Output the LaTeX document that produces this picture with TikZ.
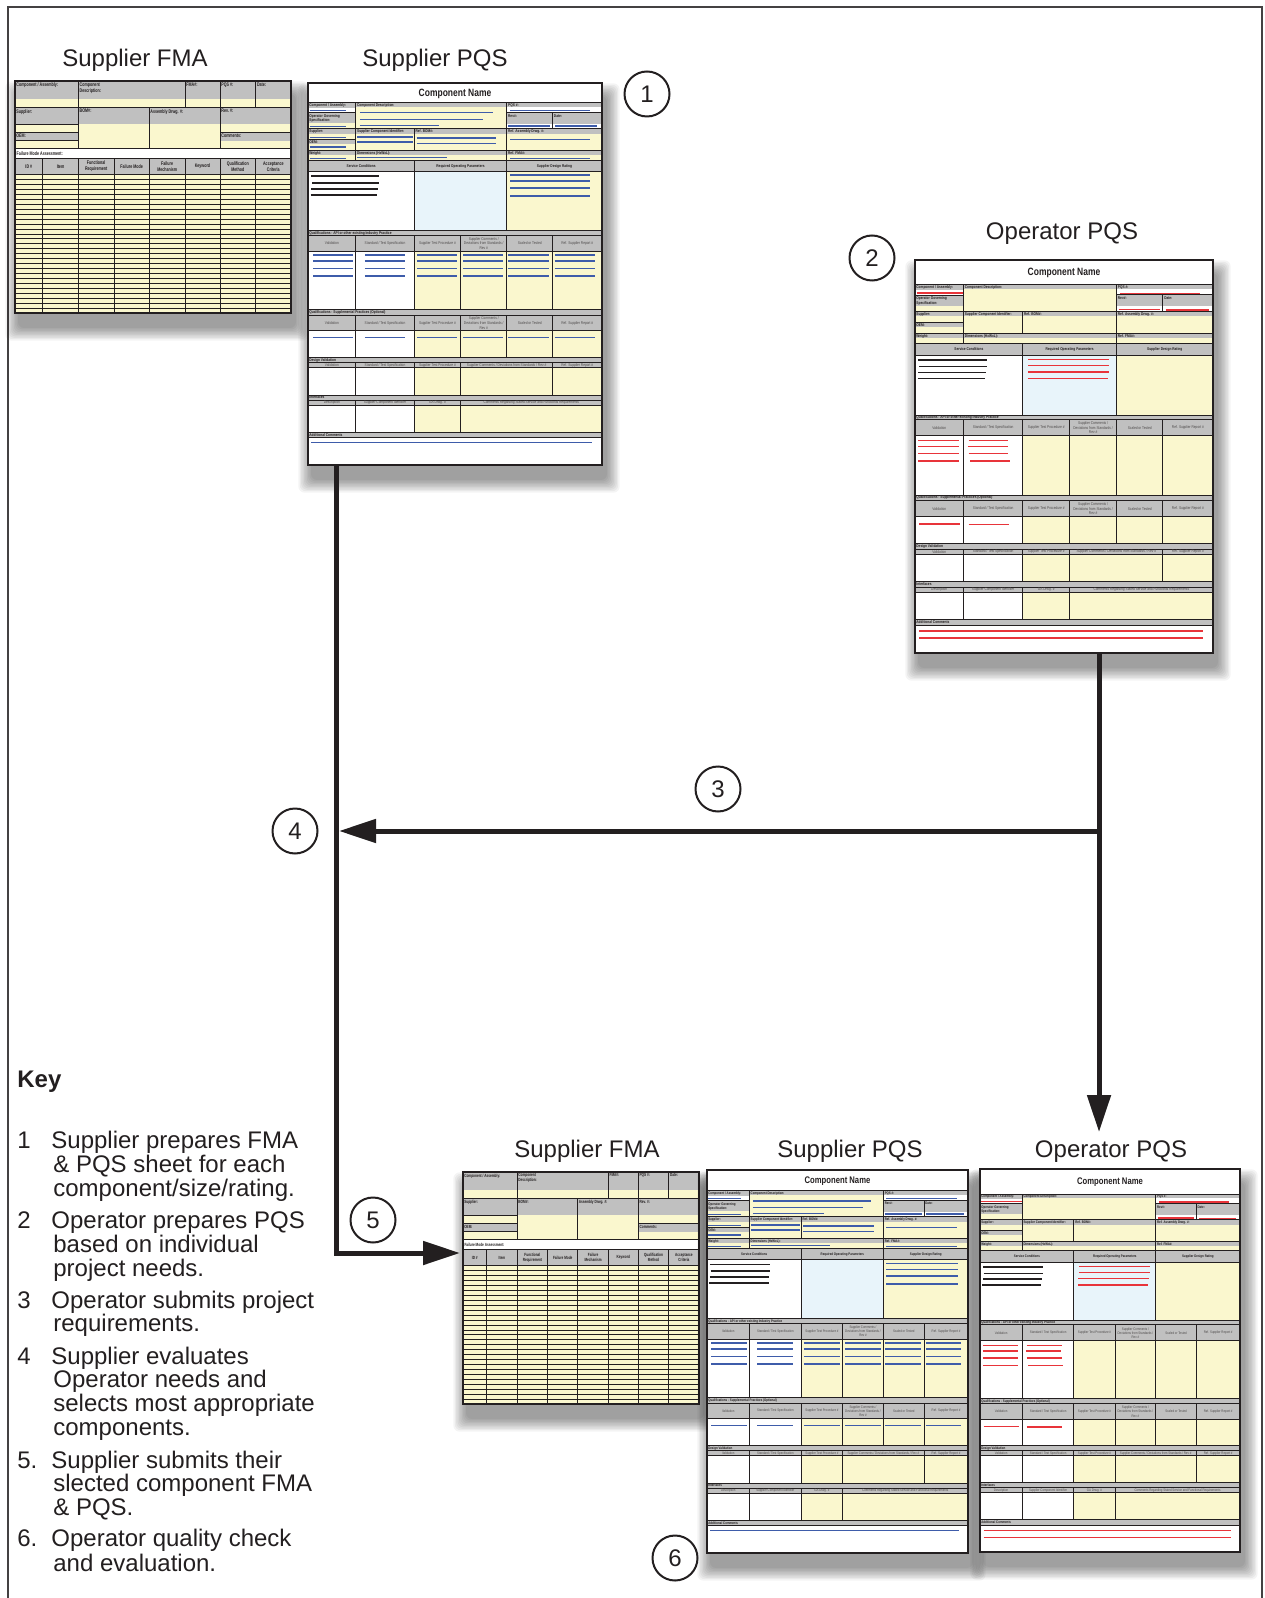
\documentclass[tikz,border=0pt]{standalone}
\usepackage{fontspec}
\setmainfont{Liberation Sans}
\newfontfamily\cf[FakeStretch=0.8]{Liberation Sans}
\newfontfamily\cff[FakeStretch=0.7]{Liberation Sans}
\usetikzlibrary{arrows.meta}
\definecolor{ink}{RGB}{35,31,32}
\definecolor{hdr}{RGB}{192,192,192}
\definecolor{yel}{RGB}{250,247,206}
\definecolor{lblue}{RGB}{232,244,250}
\definecolor{bline}{RGB}{62,92,170}
\definecolor{rline}{RGB}{232,52,58}
\def\lfs{2}\def\lfsl{2.3}\def\ffs{2.6}\def\ffsl{2.9}\def\cns{5.3}
\tikzset{
  gline/.style={draw=ink, line width=0.5pt},
  blueln/.style={draw=bline, line width=0.8pt},
  redln/.style={draw=rline, line width=0.8pt},
  blkln/.style={draw=ink, line width=0.8pt},
  formframe/.style={draw=ink, line width=1pt},
  formbg/.style={fill=white, inner sep=0pt, outer sep=0pt, anchor=north west},
  plab/.style={inner sep=0pt, align=left, text=ink, font=\cf\bfseries\fontsize{\lfs}{\lfsl}\selectfont},
  phd/.style={inner sep=0pt, align=center, text=ink!80, font=\cf\fontsize{\lfs}{\lfsl}\selectfont},
  flab/.style={inner sep=0pt, align=left, text=ink, font=\cff\bfseries\fontsize{\ffs}{\ffsl}\selectfont},
  fhd/.style={inner sep=0pt, align=center, text=ink, font=\cff\bfseries\fontsize{\ffs}{\ffsl}\selectfont},
  cname/.style={inner sep=0pt, text=ink, font=\cf\bfseries\fontsize{\cns}{\cns}\selectfont},
  ttl/.style={anchor=base, inner sep=0pt, text=ink, font=\fontsize{12}{12}\selectfont},
  numc/.style={circle, draw=ink, line width=1pt, minimum size=22.5pt, inner sep=0pt, text=ink, font=\fontsize{12}{12}\selectfont},
  keyl/.style={anchor=base west, inner sep=0pt, text=ink, font=\fontsize{12}{12}\selectfont},
  conn/.style={draw=ink, line width=2.5pt},
  arrowtip/.style={-{Triangle[length=18.5pt,width=11.5pt]}}
}
\newcommand\shadowbox[4]{%
  \foreach \e in {1,2,...,10} {
    \pgfmathsetmacro\ee{15-1.4*\e}
    \fill[black,opacity=0.045,rounded corners=3pt] ({#1+4-\ee},{#2+14-\ee}) rectangle ({#3+4+\ee},{#4+14+\ee});
  }}
\newcommand\pqsbody{%
  \fill[yel] (0,0) rectangle (880,1088);
  \fill[hdr] (0,0) rectangle (880,13);
  \fill[hdr] (0,0) rectangle (143,16);
  \fill[white] (0,16) rectangle (143,30);
  \fill[hdr] (0,30) rectangle (143,61);
  \fill[white] (595,13) rectangle (880,29);
  \fill[hdr] (595,29) rectangle (880,63);
  \fill[white] (595,63) rectangle (880,78);
  \fill[hdr] (0,78) rectangle (880,93);
  \fill[hdr] (0,111) rectangle (143,125);
  \fill[hdr] (0,143) rectangle (880,157);
  \fill[hdr] (0,173) rectangle (880,208);
  \fill[white] (0,208) rectangle (318,385);
  \fill[lblue] (318,208) rectangle (595,385);
  \fill[hdr] (0,385) rectangle (880,446);
  \fill[white] (0,446) rectangle (318,621);
  \fill[hdr] (0,621) rectangle (880,685);
  \fill[white] (0,685) rectangle (318,765);
  \fill[hdr] (0,765) rectangle (880,796);
  \fill[white] (0,796) rectangle (318,878);
  \fill[hdr] (0,878) rectangle (880,908);
  \fill[white] (0,908) rectangle (318,990);
  \fill[hdr] (0,990) rectangle (880,1006);
  \fill[white] (0,1006) rectangle (880,1088);
  \draw[gline] (0,78)--(880,78) (0,143)--(880,143) (0,173)--(880,173) (0,208)--(880,208)
    (0,385)--(880,385) (0,398)--(880,398) (0,446)--(880,446) (0,621)--(880,621)
    (0,638)--(880,638) (0,685)--(880,685) (0,765)--(880,765) (0,781)--(880,781)
    (0,796)--(880,796) (0,878)--(880,878) (0,893)--(880,893) (0,908)--(880,908)
    (0,990)--(880,990) (0,1006)--(880,1006)
    (0,30)--(143,30) (595,29)--(880,29) (0,111)--(143,111)
    (143,0)--(143,78) (595,0)--(595,78) (732,29)--(732,78)
    (143,78)--(143,143) (318,78)--(318,143) (595,78)--(595,143)
    (143,143)--(143,173) (595,143)--(595,173)
    (318,173)--(318,385) (595,173)--(595,385)
    \foreach \x in {143,318,457,595,732} {(\x,398)--(\x,621) (\x,638)--(\x,765)}
    \foreach \x in {143,318,457,732} {(\x,781)--(\x,878)}
    \foreach \x in {143,318,457} {(\x,893)--(\x,990)};
}
\newcommand\qhdr[2]{%
  \node[phd] (#1a) at (71.5,#2) {Validation};
  \node[phd] (#1b) at (230.5,#2) {Standard / Test Specification};
  \node[phd] (#1c) at (387.5,#2) {Supplier Test Procedure \#};
  \node[phd] (#1d) at (526,#2) {Supplier Comments /\\Deviations from Standards /\\Rev \#};
  \node[phd] (#1e) at (663.5,#2) {Scaled or Tested};
  \node[phd] (#1f) at (806,#2) {Ref. Supplier Report \#};
}
\newcommand\pqslabels{%
  \node[plab,anchor=north west] (l1) at (3,2) {Component / Assembly:};
  \node[plab,anchor=north west] (l2) at (146,2) {Component Description:};
  \node[plab,anchor=north west] (l3) at (598,2) {PQS \#:};
  \node[plab,anchor=north west] (l4) at (3,34) {Operator Governing\\Specification:};
  \node[plab,anchor=north west] (l5) at (598,34) {Rev\#:};
  \node[plab,anchor=north west] (l6) at (735,34) {Date:};
  \node[plab,anchor=north west] (l7) at (3,81) {Supplier:};
  \node[plab,anchor=north west] (l8) at (3,114) {OEM:};
  \node[plab,anchor=north west] (l9) at (146,81) {Supplier Component Identifier:};
  \node[plab,anchor=north west] (l10) at (321,81) {Ref. BOM\#:};
  \node[plab,anchor=north west] (l11) at (598,81) {Ref. Assembly Drwg. \#:};
  \node[plab,anchor=north west] (l12) at (3,146) {Weight:};
  \node[plab,anchor=north west] (l13) at (146,146) {Dimensions (HxWxL):};
  \node[plab,anchor=north west] (l14) at (598,146) {Ref. FMA\#:};
  \node[plab] (l15) at (159,190.5) {Service Conditions};
  \node[plab] (l16) at (456.5,190.5) {Required Operating Parameters};
  \node[plab] (l17) at (737.5,190.5) {Supplier Design Rating};
  \node[plab,anchor=west] (l18) at (3,391.5) {Qualifications - API or other existing Industry Practice};
  \node[plab,anchor=west] (l19) at (3,629.5) {Qualifications - Supplemental Practices (Optional)};
  \node[plab,anchor=west] (l20) at (3,773) {Design Validation};
  \node[plab,anchor=west] (l21) at (3,885.5) {Interfaces};
  \node[plab,anchor=west] (l22) at (3,998) {Additional Comments};
  \qhdr{q}{422}
  \qhdr{s}{661.5}
  \node[phd] (d1) at (71.5,788.5) {Validation};
  \node[phd] (d2) at (230.5,788.5) {Standard / Test Specification};
  \node[phd] (d3) at (387.5,788.5) {Supplier Test Procedure \#};
  \node[phd] (d4) at (594.5,788.5) {Supplier Comments / Deviations from Standards / Rev \#};
  \node[phd] (d5) at (806,788.5) {Ref. Supplier Report \#};
  \node[phd] (i1) at (71.5,900.5) {Description};
  \node[phd] (i2) at (230.5,900.5) {Supplier Component Identifier};
  \node[phd] (i3) at (387.5,900.5) {GA Drwg. \#};
  \node[phd] (i4) at (668.5,900.5) {Comments Regarding Stated Service and Functional Requirements};
}
\newcommand\pqsblack{%
  \draw[blkln] (10,221)--(212,221) (12,241)--(212,241) (10,259)--(210,259) (8,277)--(208,277);
}
\newcommand\pqsblue{%
  \draw[blueln] (5,23)--(115,23) (5,71)--(115,71)
    (155,30)--(553,30) (155,51)--(525,51) (155,68)--(393,68)
    (605,23)--(843,23) (600,70)--(725,70) (740,70)--(865,70)
    (5,105)--(115,105) (5,133)--(115,133)
    (148,103)--(315,103) (148,118)--(315,118)
    (325,106)--(563,106) (325,123)--(563,123)
    (605,111)--(843,111)
    (5,167)--(115,167) (148,165)--(415,165) (605,167)--(843,167)
    (605,218)--(845,218) (605,236)--(845,236) (605,256)--(845,256) (605,280)--(845,280)
    \foreach \a/\b in {15/135,170/290,327/447,465/585,600/720,738/858}
      {(\a,458)--(\b,458) (\a,476)--(\b,476) (\a,498)--(\b,498) (\a,521)--(\b,521) (\a,705)--(\b,705)}
    (10,1020)--(850,1020);
}
\newcommand\pqsred{%
  \draw[redln] (5,23)--(143,23) (606,25)--(843,25) (601,72)--(724,72) (741,74)--(867,74)
    (335,220)--(574,220) (335,238)--(574,238) (333,257)--(572,257) (333,277)--(570,277)
    (10,460)--(130,460) (10,478)--(130,478) (10,498)--(130,498) (10,521)--(130,521)
    (158,460)--(276,460) (155,478)--(274,478) (158,498)--(276,498) (163,521)--(281,521)
    (12,707)--(133,707) (158,708)--(279,708)
    (12,1023)--(850,1023) (12,1044)--(850,1044);
}
\newcommand\pqs[7]{%
  \shadowbox{#2}{#3}{#2+#4}{#3+#5}
  \pgfmathsetmacro\psx{#4/880}%
  \pgfmathsetmacro\psy{(#5-#6)/1088}%
  \pgfmathsetmacro\pby{#3+#6}%
  \pgfmathsetmacro\pw{#4*0.5}%
  \pgfmathsetmacro\ph{#5*0.5}%
  \node[formbg, minimum width=\pw pt, minimum height=\ph pt] (#1) at (#2,#3) {};
  \node[cname] (#1-t) at ({#2+#4/2},{#3+#6/2+0.7}) {Component Name};
  \begin{scope}[shift={(#2,\pby)}, xscale=\psx, yscale=\psy, name prefix=#1-]
    \pqsbody
    \pqslabels
    \pqsblack
    \ifnum#7=0 \pqsblue\else\pqsred\fi
  \end{scope}
  \draw[gline] (#2,\pby) -- ({#2+#4},\pby);
  \draw[formframe] (#1.north west) rectangle (#1.south east);
}
\newcommand\fmabody{%
  \fill[yel] (0,0) rectangle (828,697);
  \fill[hdr] (0,0) rectangle (828,55);
  \fill[hdr] (0,80) rectangle (828,130);
  \fill[hdr] (0,154) rectangle (190,180);
  \fill[hdr] (615,154) rectangle (828,180);
  \fill[white] (0,204) rectangle (828,232);
  \fill[hdr] (0,232) rectangle (828,282);
  \draw[gline] (0,80)--(828,80) (0,204)--(828,204) (0,232)--(828,232) (0,282)--(828,282)
    (0,130)--(190,130) (0,154)--(190,154) (0,180)--(190,180) (615,154)--(828,154)
    (190,0)--(190,204) (510,0)--(510,80) (615,0)--(615,204) (722,0)--(722,80) (402,80)--(402,204)
    \foreach \x in {83,190,297,403,510,615,722} {(\x,232)--(\x,697)}
    \foreach \i in {1,...,28} {(0,{282+\i*14.82})--(828,{282+\i*14.82})};
  \node[flab,anchor=north west] (a) at (3,4) {Component / Assembly:};
  \node[flab,anchor=north west] (b) at (193,4) {Component\\Description:};
  \node[flab,anchor=north west] (c) at (513,4) {FMA\#:};
  \node[flab,anchor=north west] (d) at (618,4) {PQS \#:};
  \node[flab,anchor=north west] (e) at (725,4) {Date:};
  \node[flab,anchor=north west] (f) at (3,84) {Supplier:};
  \node[flab,anchor=north west] (g) at (193,84) {BOM\#:};
  \node[flab,anchor=north west] (h) at (405,84) {Assembly Drwg. \#:};
  \node[flab,anchor=north west] (i) at (618,84) {Rev. \#:};
  \node[flab,anchor=north west] (j) at (3,158) {OEM:};
  \node[flab,anchor=north west] (k) at (618,158) {Comments:};
  \node[flab,anchor=west] (l) at (4,218) {Failure Mode Assessment:};
  \node[fhd] (h1) at (41.5,257) {ID \#};
  \node[fhd] (h2) at (136.5,257) {Item};
  \node[fhd] (h3) at (243.5,257) {Functional\\Requirement};
  \node[fhd] (h4) at (350,257) {Failure Mode};
  \node[fhd] (h5) at (456.5,257) {Failure\\Mechanism};
  \node[fhd] (h6) at (562.5,257) {Keyword};
  \node[fhd] (h7) at (668.5,257) {Qualification\\Method};
  \node[fhd] (h8) at (775,257) {Acceptance\\Criteria};
}
\newcommand\fma[5]{%
  \shadowbox{#2}{#3}{#2+#4}{#3+#5}
  \pgfmathsetmacro\fsx{#4/828}%
  \pgfmathsetmacro\fsy{#5/697}%
  \pgfmathsetmacro\pw{#4*0.5}%
  \pgfmathsetmacro\ph{#5*0.5}%
  \node[formbg, minimum width=\pw pt, minimum height=\ph pt] (#1) at (#2,#3) {};
  \begin{scope}[shift={(#2,#3)}, xscale=\fsx, yscale=\fsy, name prefix=#1-]
    \fmabody
  \end{scope}
  \draw[formframe] (#1.north west) rectangle (#1.south east);
}
\begin{document}
\begin{tikzpicture}[x=0.5pt,y=-0.5pt]
\useasboundingbox (0,0) rectangle (1264,1598);
\fill[white] (0,0) rectangle (1264,1598);
\draw[line width=1.2pt, ink!85] (8,1600) -- (8,7) -- (1262,7) -- (1262,1600);

% titles
\node[ttl] (tfmaA) at (135,67) {Supplier FMA};
\node[ttl] (tpqsA) at (435,67) {Supplier PQS};
\node[ttl] (topqA) at (1062,240) {Operator PQS};
\node[ttl] (tfmaB) at (587,1157) {Supplier FMA};
\node[ttl] (tpqsB) at (850,1157) {Supplier PQS};
\node[ttl] (topqB) at (1111,1157) {Operator PQS};

% forms
\def\ffs{2.6}\def\ffsl{2.9}
\fma{sfmaA}{15}{81}{276}{232}
\def\ffs{2.25}\def\ffsl{2.5}
\fma{sfmaB}{463}{1172}{236}{232}
\def\lfs{2}\def\lfsl{2.3}\def\cns{5.3}
\pqs{spqsA}{308}{83}{294}{382}{19.7}{0}
\pqs{opqsA}{915}{260}{298}{393}{25}{1}
\def\lfs{1.8}\def\lfsl{2.05}\def\cns{4.8}
\pqs{spqsB}{707}{1170}{261}{383}{20.7}{0}
\pqs{opqsB}{980}{1169}{260}{383}{25}{1}

% connectors
\coordinate (s1b) at (336,465);
\coordinate (f2in) at (460,1253);
\coordinate (o1b) at (1099,653);
\coordinate (o2in) at (1099,1132);
\coordinate (j3) at (1099,831);
\coordinate (t4) at (339,831);
\draw[conn, arrowtip] (s1b) |- (f2in);
\draw[conn, arrowtip] (o1b) -- (o2in);
\draw[conn, arrowtip] (j3) -- (t4);

% step numbers
\node[numc] (n1) at (647,94) {1};
\node[numc] (n2) at (872,258) {2};
\node[numc] (n3) at (718,789) {3};
\node[numc] (n4) at (295,831) {4};
\node[numc] (n5) at (373,1220) {5};
\node[numc] (n6) at (675,1558) {6};

% key
\node[keyl, font=\bfseries\fontsize{12}{12}\selectfont] (key) at (17,1087) {Key};
\node[keyl] (k1n) at (17,1148) {1};
\node[keyl] (k1a) at (51,1148) {Supplier prepares FMA};
\node[keyl] (k1b) at (53,1172) {\& PQS sheet for each};
\node[keyl] (k1c) at (53,1196) {component/size/rating.};
\node[keyl] (k2n) at (17,1228) {2};
\node[keyl] (k2a) at (51,1228) {Operator prepares PQS};
\node[keyl] (k2b) at (53,1252) {based on individual};
\node[keyl] (k2c) at (53,1276) {project needs.};
\node[keyl] (k3n) at (17,1308) {3};
\node[keyl] (k3a) at (51,1308) {Operator submits project};
\node[keyl] (k3b) at (53,1331) {requirements.};
\node[keyl] (k4n) at (17,1364) {4};
\node[keyl] (k4a) at (51,1364) {Supplier evaluates};
\node[keyl] (k4b) at (53,1387) {Operator needs and};
\node[keyl] (k4c) at (53,1411) {selects most appropriate};
\node[keyl] (k4d) at (53,1435) {components.};
\node[keyl] (k5n) at (17,1468) {5.};
\node[keyl] (k5a) at (51,1468) {Supplier submits their};
\node[keyl] (k5b) at (53,1491) {slected component FMA};
\node[keyl] (k5c) at (53,1515) {\& PQS.};
\node[keyl] (k6n) at (17,1546.5) {6.};
\node[keyl] (k6a) at (51,1546.5) {Operator quality check};
\node[keyl] (k6b) at (53,1571) {and evaluation.};
\end{tikzpicture}
\end{document}
